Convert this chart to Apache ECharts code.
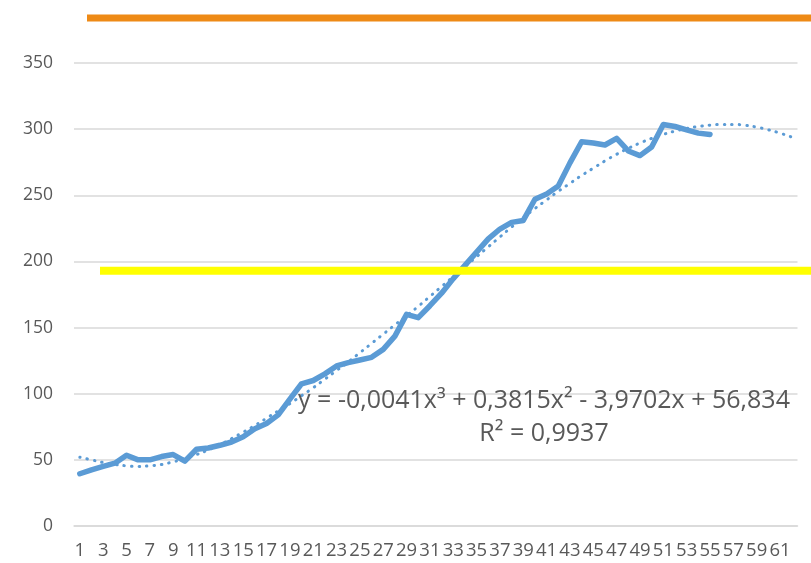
<!DOCTYPE html>
<html>
<head>
<meta charset="utf-8">
<title>Trend</title>
<script src="https://cdn.jsdelivr.net/npm/echarts@6/dist/echarts.min.js"></script>
<style>
  html, body { margin: 0; padding: 0; background: #fff; }
  #chart { width: 811px; height: 563px; }
</style>
</head>
<body>
<div id="chart"></div>
<script>
// categories 1..62 (labels shown every other one)
const categories = [
  1, 2, 3, 4, 5, 6, 7, 8, 9, 10, 11, 12, 13, 14, 15, 16, 17, 18, 19, 20,
  21, 22, 23, 24, 25, 26, 27, 28, 29, 30, 31, 32, 33, 34, 35, 36, 37, 38, 39, 40,
  41, 42, 43, 44, 45, 46, 47, 48, 49, 50, 51, 52, 53, 54, 55, 56, 57, 58, 59, 60,
  61, 62
]

const values = [
  39.5, 42.5, 45, 47.5, 53.5, 50, 50, 52.5, 54, 49,
  58, 59, 61, 63.5, 67.5, 73.5, 77.5, 84, 96, 107.5,
  110, 115, 121, 123.5, 125.5, 127.5, 133.5, 143.5, 160, 157.5,
  166.5, 176, 187, 197, 207, 217, 224.5, 229.5, 231, 247,
  251, 257, 274.5, 290.5, 289.5, 288, 293, 283.5, 280, 286.5,
  303.5, 302, 299.5, 297, 296
]

// dotted polynomial trendline
const trend = [
  52, 50, 48, 46.5, 45.5, 45, 45.5, 46.5, 48.5, 51,
  54, 57.5, 61.5, 66, 71, 76, 81.5, 87, 92.5, 98.5,
  104.5, 111, 117.5, 124, 131, 138, 145, 152, 159, 166,
  173.5, 181, 188.5, 196, 203.5, 211, 218.5, 226, 233, 240,
  246.5, 253, 259, 265, 270.5, 276, 281, 285.5, 289.5, 293,
  296, 298.5, 300.5, 302, 303, 303.5, 303.5, 303, 301.5, 299.5,
  297, 294
]

const yTicks = { min: 0, max: 350, interval: 50 }

// hand-drawn reference levels
const orangeLevel = 384
const yellowLevel = 193

const equationText = 'y = -0,0041x³ + 0,3815x² - 3,9702x + 56,834'
const r2Text = 'R² = 0,9937'

const chart = echarts.init(document.getElementById('chart'))

const option = {
  animation: false,
  backgroundColor: '#fff',
  grid: {
    left: 74,
    right: 13.5,
    top: 63,
    bottom: 37,
  },
  xAxis: {
    type: 'category',
    data: categories,
    boundaryGap: true,
    axisLine: { lineStyle: { color: '#d9d9d9', width: 1.5 } },
    axisTick: { show: false },
    axisLabel: {
      interval: 1,
      color: '#595959',
      fontFamily: 'Open Sans',
      fontSize: 18.5,
      margin: 15,
    },
  },
  yAxis: {
    type: 'value',
    min: yTicks.min,
    max: yTicks.max,
    interval: yTicks.interval,
    axisLine: { show: false },
    axisTick: { show: false },
    axisLabel: {
      color: '#595959',
      fontFamily: 'Open Sans',
      fontSize: 17.5,
      margin: 21,
    },
    splitLine: { lineStyle: { color: '#d9d9d9', width: 1.5 } },
  },
  series: [
    {
      name: 'data',
      type: 'line',
      data: values,
      showSymbol: false,
      lineStyle: { color: '#5b9bd5', width: 5.5, join: 'round', cap: 'round' },
      z: 2,
    },
    {
      name: 'trend',
      type: 'line',
      data: trend,
      showSymbol: false,
      smooth: true,
      lineStyle: { color: '#5b9bd5', width: 3, type: [0.5, 7], cap: 'round' },
      z: 3,
    },
  ],
}

chart.setOption(option)

// overlay lines + trendline label
const yOrange = chart.convertToPixel({ yAxisIndex: 0 }, orangeLevel)
const yYellow = chart.convertToPixel({ yAxisIndex: 0 }, yellowLevel)

const labelFont = '25px "Open Sans"'

chart.setOption({
  graphic: [
    {
      type: 'rect',
      shape: { x: 87, y: yOrange - 3.5, width: 724, height: 7 },
      style: { fill: '#ee8a16' },
      z: 10,
    },
    {
      type: 'rect',
      shape: { x: 100, y: yYellow - 4, width: 711, height: 8 },
      style: { fill: '#ffff00' },
      z: 10,
    },
    {
      type: 'text',
      x: 544,
      y: 401,
      style: {
        text: equationText,
        fill: '#595959',
        font: labelFont,
        textAlign: 'center',
        textVerticalAlign: 'middle',
      },
      z: 11,
    },
    {
      type: 'text',
      x: 544,
      y: 434,
      style: {
        text: r2Text,
        fill: '#595959',
        font: labelFont,
        textAlign: 'center',
        textVerticalAlign: 'middle',
      },
      z: 11,
    },
  ],
})
</script>
</body>
</html>
